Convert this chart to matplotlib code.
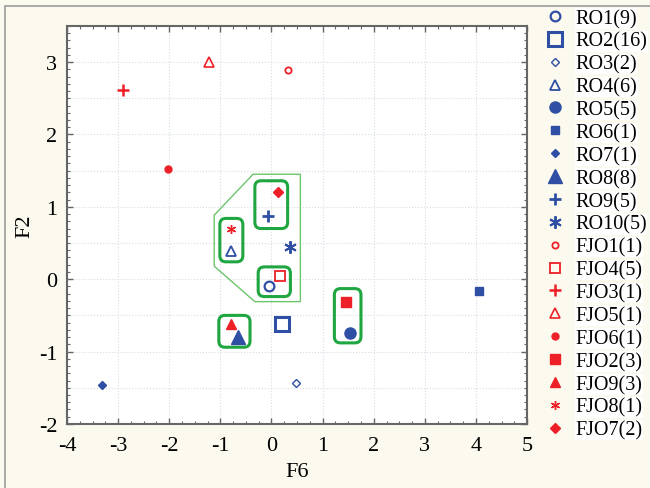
import numpy as np
import matplotlib.pyplot as plt
from matplotlib.patches import FancyBboxPatch, Polygon, Rectangle
from matplotlib.ticker import MultipleLocator

plt.rcParams['font.family'] = ['Liberation Serif', 'DejaVu Serif']
plt.rcParams['axes.unicode_minus'] = False

# group labels and score positions (F6, F2)
labels = ['RO1(9)', 'RO2(16)', 'RO3(2)', 'RO4(6)', 'RO5(5)', 'RO6(1)', 'RO7(1)',
          'RO8(8)', 'RO9(5)', 'RO10(5)',
          'FJO1(1)', 'FJO4(5)', 'FJO3(1)', 'FJO5(1)', 'FJO6(1)', 'FJO2(3)',
          'FJO9(3)', 'FJO8(1)', 'FJO7(2)']
f6 = [-0.04, 0.20, 0.47, -0.80, 1.53, 4.06, -3.31, -0.65, -0.07, 0.37,
      0.32, 0.17, -2.91, -1.22, -2.02, 1.46, -0.80, -0.80, 0.12]
f2 = [-0.09, -0.62, -1.44, 0.39, -0.74, -0.16, -1.46, -0.80, 0.87, 0.45,
      2.89, 0.05, 2.61, 3.00, 1.52, -0.31, -0.62, 0.69, 1.20]

blue = '#2f4fa5'
red = '#ee2027'
asterisk = (6, 2, 0)
# marker, size, filled, edge width
styles = [('o', 7, False, 1.6), ('s', 10.5, False, 2.2), ('D', 4.5, False, 1.0),
          ('^', 7, False, 1.3), ('o', 8, True, 1), ('s', 5.5, True, 1),
          ('D', 4, True, 1), ('^', 9.5, True, 1), ('+', 9, True, 2.0),
          (asterisk, 9, True, 1.4),
          ('o', 4.5, False, 1.3), ('s', 7, False, 1.3), ('+', 8, True, 1.8),
          ('^', 6.5, False, 1.2), ('o', 5, True, 1), ('s', 7, True, 1),
          ('^', 7.5, True, 1), (asterisk, 6.5, True, 1.0), ('D', 5.5, True, 1)]
colors = [blue] * 10 + [red] * 9

# cluster outlines: (x0, y0, x1, y1)
boxes = [(-0.325, 0.70, 0.316, 1.36),
         (-1.01, 0.24, -0.56, 0.84),
         (-0.26, -0.24, 0.37, 0.17),
         (-1.03, -0.94, -0.42, -0.50),
         (1.23, -0.88, 1.75, -0.13)]
hull_x = [-0.36, 0.565, 0.565, -0.325, -1.12, -1.12]
hull_y = [1.45, 1.45, -0.31, -0.31, 0.18, 0.885]

fig = plt.figure(figsize=(6.5, 4.89), dpi=100, facecolor='#fcfaee')
ax = fig.add_axes([0.103, 0.131, 0.708, 0.814])

for v in range(-3, 5):
    ax.axvline(v, color='#d5dde6', lw=0.8, ls=':', zorder=0)
for h in np.arange(-1.5, 3.5, 0.5):
    ax.axhline(h, color='#d5dde6', lw=0.8, ls=':', zorder=0)

for i in range(len(labels)):
    m, s, filled, mew = styles[i]
    c = colors[i]
    ax.plot(f6[i], f2[i], ls='none', marker=m, ms=s, mew=mew, color=c,
            mfc=c if filled else 'none', mec=c, label=labels[i], zorder=3)

ax.add_patch(Polygon(np.column_stack([hull_x, hull_y]), closed=True, fill=False,
                     ec='#6cc56c', lw=1.0, zorder=2))
for x0, y0, x1, y1 in boxes:
    ax.add_patch(FancyBboxPatch((x0, y0), x1 - x0, y1 - y0,
                                boxstyle='round,pad=0,rounding_size=0.12',
                                mutation_aspect=0.71, fill=False,
                                ec='#1fa640', lw=2.2, zorder=2))

ax.set_xlim(-4, 5)
ax.set_ylim(-2, 3.5)
ax.set_xticks(range(-4, 6))
ax.set_yticks(range(-2, 4))
ax.xaxis.set_minor_locator(MultipleLocator(0.25))
ax.yaxis.set_minor_locator(MultipleLocator(0.1))
ax.tick_params(which='both', direction='in', top=True, right=True,
               color='#666666', labelsize=16)
ax.tick_params(axis='x', pad=9)
ax.tick_params(axis='y', pad=7)
ax.tick_params(which='major', length=4, width=1)
ax.tick_params(which='minor', length=2.5, width=0.8)
for sp in ax.spines.values():
    sp.set_color('#666666')
    sp.set_linewidth(1.5)
ax.set_xlabel('F6', fontsize=16, labelpad=5)
ax.set_ylabel('F2', fontsize=16, labelpad=3)

# outer frame
fig.patches.append(Rectangle((5 / 650, -0.1), 1.2, 1.1 - 7 / 489,
                             transform=fig.transFigure, fill=False,
                             ec='#9a9a9a', lw=1.2))

leg = fig.legend(loc='upper left', bbox_to_anchor=(545 / 650, 0.98),
                 frameon=False, fontsize=14.5, handlelength=1.0,
                 handletextpad=0.5, labelspacing=0.18, borderpad=0,
                 borderaxespad=0)
for t in leg.get_texts():
    t.set_bbox(dict(facecolor='white', edgecolor='none', pad=0.5))

fig.savefig('out.png', dpi=100, facecolor=fig.get_facecolor())
